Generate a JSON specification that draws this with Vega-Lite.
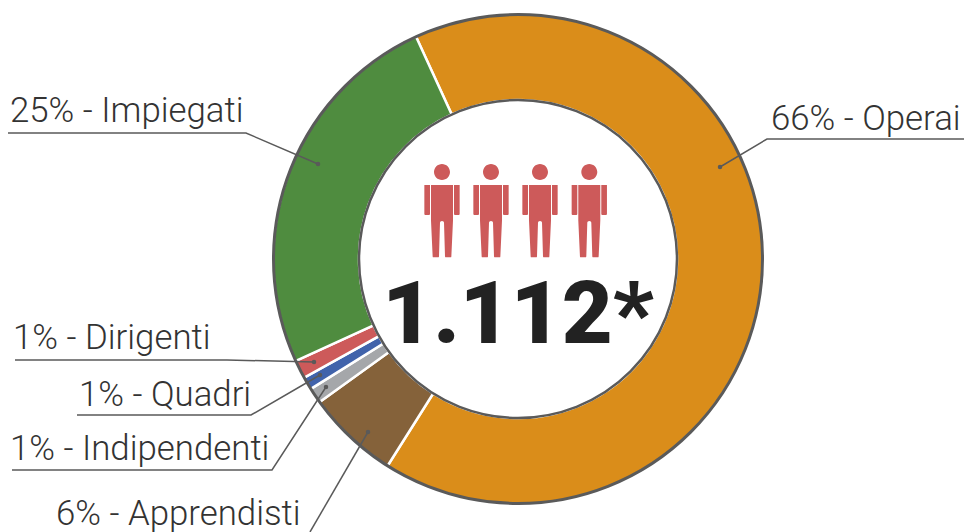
{
"$schema":"https://vega.github.io/schema/vega-lite/v6.json",
"width":490,"height":490,
"autosize":{"type":"none"},
"padding":{"left":273,"top":14,"right":201,"bottom":28},
"background":"white",
"config":{"view":{"stroke":null},"font":"Roboto"},
"datasets":{
"slices":[
{"name":"Operai","ord":1,"pct":65.8},
{"name":"Apprendisti","ord":2,"pct":6.1},
{"name":"Indipendenti","ord":3,"pct":1.03},
{"name":"Quadri","ord":4,"pct":0.85},
{"name":"Dirigenti","ord":5,"pct":1.22},
{"name":"Impiegati","ord":6,"pct":25}
],
"leaders":[
{"name":"Impiegati","step":0,"x":-200,"y":95},{"name":"Impiegati","step":1,"x":-272,"y":126},{"name":"Impiegati","step":2,"x":-510,"y":126},
{"name":"Operai","step":0,"x":202,"y":92},{"name":"Operai","step":1,"x":249,"y":120},{"name":"Operai","step":2,"x":446,"y":120},
{"name":"Dirigenti","step":0,"x":-204,"y":-103},{"name":"Dirigenti","step":1,"x":-291,"y":-101},{"name":"Dirigenti","step":2,"x":-503,"y":-101},
{"name":"Quadri","step":0,"x":-198,"y":-116},{"name":"Quadri","step":1,"x":-267,"y":-156},{"name":"Quadri","step":2,"x":-441,"y":-156},
{"name":"Indipendenti","step":0,"x":-192,"y":-128},{"name":"Indipendenti","step":1,"x":-246,"y":-211},{"name":"Indipendenti","step":2,"x":-506,"y":-211},
{"name":"Apprendisti","step":0,"x":-150,"y":-173},{"name":"Apprendisti","step":1,"x":-208,"y":-273}
],
"labels":[
{"label":"25% - Impiegati","x":-508,"y":137.5},
{"label":"66% - Operai","x":253,"y":129},
{"label":"1% - Dirigenti","x":-505,"y":-90},
{"label":"1% - Quadri","x":-439,"y":-147},
{"label":"1% - Indipendenti","x":-508,"y":-201},
{"label":"6% - Apprendisti","x":-462,"y":-265.5}
],
"icons":[{"x":-76,"y":48.5},{"x":-27,"y":48.5},{"x":22,"y":48.5},{"x":71.3,"y":48.5}],
"centre":[{"x":0,"y":0,"total":"1.112*","tx":0,"ty":-84}]
},
"layer":[
{"data":{"name":"slices"},
"mark":{"type":"arc","radius":245,"radius2":159,"stroke":"white","strokeWidth":2.5},
"encoding":{
"theta":{"field":"pct","type":"quantitative","stack":true,"scale":{"domain":[0,100],"range":[-0.43,5.853]}},
"order":{"field":"ord","type":"ordinal"},
"color":{"field":"name","type":"nominal","legend":null,"scale":{"domain":["Operai","Apprendisti","Indipendenti","Quadri","Dirigenti","Impiegati"],"range":["#da8d1a","#85623a","#a5a7aa","#4163ab","#cd5a5a","#4f8c3f"]}}
}},
{"data":{"name":"centre"},
"mark":{"type":"point","filled":false,"stroke":"#5a5a5a","strokeWidth":3,"size":239121,"opacity":1},
"encoding":{"x":{"field":"x","type":"quantitative","axis":null,"scale":{"domain":[-245,245],"nice":false}},"y":{"field":"y","type":"quantitative","axis":null,"scale":{"domain":[-245,245],"nice":false}}}},
{"data":{"name":"centre"},
"mark":{"type":"point","filled":false,"stroke":"#5a5a5a","strokeWidth":2.5,"size":101124,"opacity":1},
"encoding":{"x":{"field":"x","type":"quantitative"},"y":{"field":"y","type":"quantitative"}}},
{"data":{"name":"leaders"},
"mark":{"type":"line","stroke":"#5a5a5a","strokeWidth":1.5,"interpolate":"linear"},
"encoding":{"x":{"field":"x","type":"quantitative"},"y":{"field":"y","type":"quantitative"},"detail":{"field":"name"},"order":{"field":"step","type":"ordinal"}}},
{"data":{"name":"leaders"},
"transform":[{"filter":"datum.step === 0"}],
"mark":{"type":"point","filled":true,"color":"#5a5a5a","size":20,"opacity":1},
"encoding":{"x":{"field":"x","type":"quantitative"},"y":{"field":"y","type":"quantitative"}}},
{"data":{"name":"labels"},
"mark":{"type":"text","align":"left","baseline":"alphabetic","font":"Roboto","fontWeight":300,"fontSize":34.8,"color":"#333333"},
"encoding":{"x":{"field":"x","type":"quantitative"},"y":{"field":"y","type":"quantitative"},"text":{"field":"label"}}},
{"data":{"name":"icons"},
"mark":{"type":"point","filled":true,"color":"#cd5a5a","size":10000,"opacity":1,
"shape":"M0,-0.93C0.088,-0.93,0.16,-0.858,0.16,-0.77C0.16,-0.682,0.088,-0.61,0,-0.61C-0.088,-0.61,-0.16,-0.682,-0.16,-0.77C-0.16,-0.858,-0.088,-0.93,0,-0.93ZM-0.22,-0.51L0.22,-0.51L0.22,0.2L0.187,0.92Q0.187,0.937,0.17,0.937L0.08,0.937Q0.063,0.937,0.06,0.92L0.04,0.24Q0.04,0.21,0,0.21Q-0.04,0.21,-0.04,0.24L-0.06,0.92Q-0.063,0.937,-0.08,0.937L-0.17,0.937Q-0.187,0.937,-0.187,0.92L-0.22,0.2ZM-0.353,-0.51L-0.24,-0.51L-0.24,0.07Q-0.24,0.09,-0.26,0.09L-0.333,0.09Q-0.353,0.09,-0.353,0.07ZM0.24,-0.51L0.353,-0.51L0.353,0.07Q0.353,0.09,0.333,0.09L0.26,0.09Q0.24,0.09,0.24,0.07Z"},
"encoding":{"x":{"field":"x","type":"quantitative"},"y":{"field":"y","type":"quantitative"}}},
{"data":{"name":"centre"},
"mark":{"type":"text","align":"center","baseline":"alphabetic","font":"Roboto","fontWeight":900,"fontSize":88,"color":"#222222"},
"encoding":{"x":{"field":"tx","type":"quantitative"},"y":{"field":"ty","type":"quantitative"},"text":{"field":"total"}}}
]
}
